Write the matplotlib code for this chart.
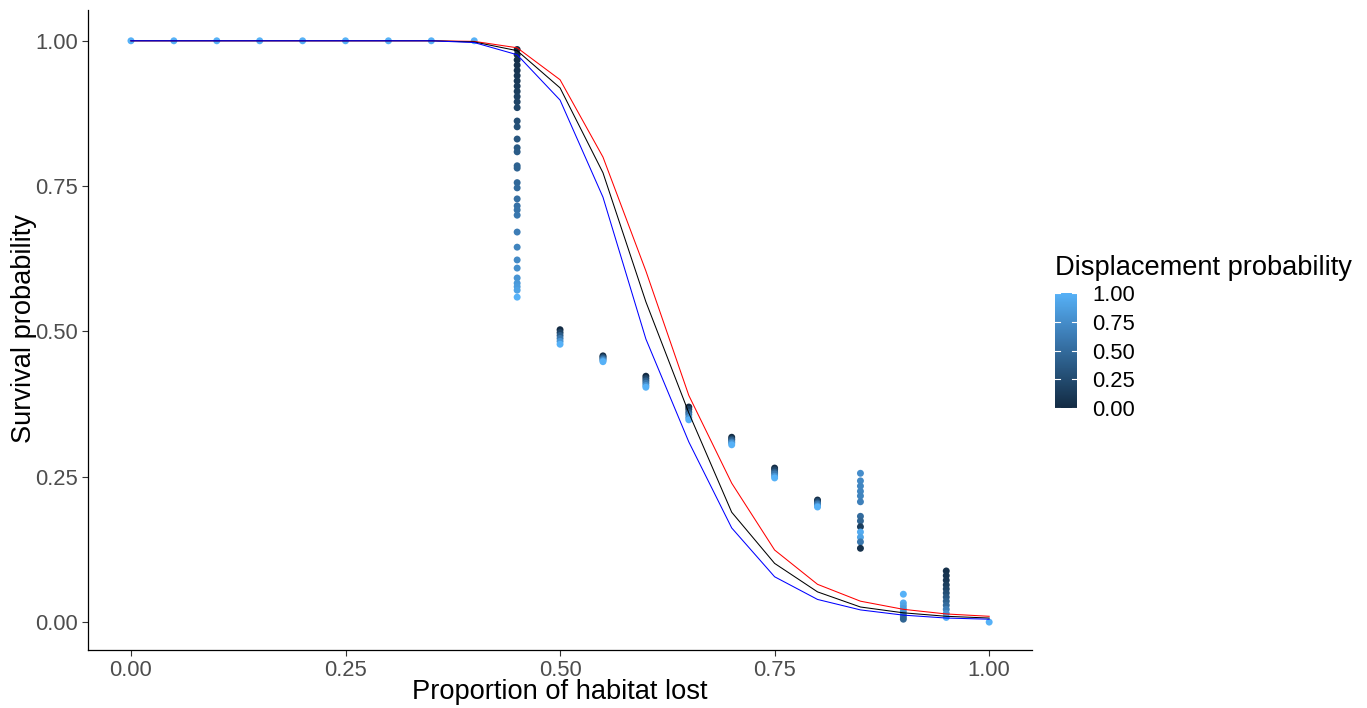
import matplotlib
matplotlib.use("Agg")
import matplotlib.pyplot as plt
from matplotlib.colors import LinearSegmentedColormap, Normalize
from matplotlib.cm import ScalarMappable
import numpy as np

plt.rcParams['font.family'] = ['Liberation Sans', 'DejaVu Sans']

# ---- Curves (habitat lost vs survival) ----
habitat_line = [0.00, 0.05, 0.10, 0.15, 0.20, 0.25, 0.30, 0.35, 0.40, 0.45, 0.50,
                0.55, 0.60, 0.65, 0.70, 0.75, 0.80, 0.85, 0.90, 0.95, 1.00]
red_line = [1.0, 1.0, 1.0, 1.0, 1.0, 1.0, 1.0, 1.0, 0.999, 0.988, 0.933,
            0.800, 0.604, 0.390, 0.239, 0.124, 0.065, 0.036, 0.022, 0.014, 0.010]
black_line = [1.0, 1.0, 1.0, 1.0, 1.0, 1.0, 1.0, 1.0, 0.998, 0.983, 0.919,
              0.773, 0.551, 0.360, 0.189, 0.101, 0.052, 0.026, 0.016, 0.010, 0.007]
blue_line = [1.0, 1.0, 1.0, 1.0, 1.0, 1.0, 1.0, 1.0, 0.997, 0.976, 0.898,
             0.731, 0.487, 0.310, 0.162, 0.078, 0.039, 0.021, 0.012, 0.007, 0.005]

# ---- Simulated points: survival and displacement probability per habitat level ----
surv_000_040 = [1.0] * 9
disp_000_040 = [1.0] * 9
habitat_000_040 = [0.00, 0.05, 0.10, 0.15, 0.20, 0.25, 0.30, 0.35, 0.40]

surv_045 = [0.985, 0.976, 0.967, 0.958, 0.949, 0.940, 0.931, 0.922, 0.913, 0.904, 0.895, 0.885,
            0.862, 0.852, 0.831, 0.816, 0.809, 0.785, 0.781, 0.756, 0.747, 0.728, 0.716, 0.709,
            0.700, 0.671, 0.645, 0.623, 0.609, 0.592, 0.583, 0.577, 0.571, 0.559]
disp_045 = [0.00, 0.02, 0.04, 0.06, 0.08, 0.10, 0.12, 0.14, 0.16, 0.18, 0.20, 0.22,
            0.28, 0.30, 0.34, 0.37, 0.39, 0.43, 0.44, 0.48, 0.50, 0.53, 0.55, 0.57,
            0.59, 0.64, 0.68, 0.73, 0.76, 0.80, 0.83, 0.86, 0.90, 1.00]

disp_mid = [0.0, 0.2, 0.4, 0.6, 0.8, 1.0]
surv_050 = [0.503, 0.498, 0.493, 0.488, 0.483, 0.478]
surv_055 = [0.458, 0.456, 0.454, 0.452, 0.450, 0.448]
surv_060 = [0.423, 0.419, 0.415, 0.411, 0.407, 0.404]
surv_065 = [0.370, 0.366, 0.361, 0.357, 0.352, 0.348]
surv_070 = [0.318, 0.315, 0.313, 0.310, 0.308, 0.305]
surv_075 = [0.265, 0.262, 0.258, 0.255, 0.251, 0.248]
surv_080 = [0.210, 0.208, 0.205, 0.203, 0.200, 0.198]

surv_085 = [0.256, 0.243, 0.234, 0.225, 0.217, 0.207, 0.182, 0.174, 0.164, 0.155, 0.146, 0.138, 0.127]
disp_085 = [0.75, 0.72, 0.70, 0.70, 0.68, 0.66, 0.50, 0.45, 0.15, 0.95, 0.90, 0.60, 0.05]

surv_090 = [0.048, 0.033, 0.028, 0.023, 0.018, 0.013, 0.009, 0.005]
disp_090 = [1.0, 0.95, 0.90, 0.85, 0.80, 0.70, 0.55, 0.45]

surv_095 = [0.088, 0.080, 0.072, 0.064, 0.057, 0.050, 0.043, 0.036, 0.029, 0.022, 0.015, 0.008]
disp_095 = [0.05, 0.08, 0.10, 0.15, 0.20, 0.28, 0.35, 0.42, 0.50, 0.65, 0.80, 1.00]

surv_100 = [0.0]
disp_100 = [1.0]

columns = [
    (habitat_000_040, surv_000_040, disp_000_040),
    ([0.45] * len(surv_045), surv_045, disp_045),
    ([0.50] * 6, surv_050, disp_mid),
    ([0.55] * 6, surv_055, disp_mid),
    ([0.60] * 6, surv_060, disp_mid),
    ([0.65] * 6, surv_065, disp_mid),
    ([0.70] * 6, surv_070, disp_mid),
    ([0.75] * 6, surv_075, disp_mid),
    ([0.80] * 6, surv_080, disp_mid),
    ([0.85] * len(surv_085), surv_085, disp_085),
    ([0.90] * len(surv_090), surv_090, disp_090),
    ([0.95] * len(surv_095), surv_095, disp_095),
    ([1.00], surv_100, disp_100),
]
hab_pts = np.concatenate([c[0] for c in columns])
surv_pts = np.concatenate([c[1] for c in columns])
disp_pts = np.concatenate([c[2] for c in columns])

x_ticks = [0.00, 0.25, 0.50, 0.75, 1.00]
y_ticks = [0.00, 0.25, 0.50, 0.75, 1.00]
tick_labels = ["0.00", "0.25", "0.50", "0.75", "1.00"]

cmap = LinearSegmentedColormap.from_list(
    "gg", ["#132B43", "#1F4466", "#2C5E8A", "#3A78AF", "#4894D3", "#56B1F7"])
norm = Normalize(0, 1)

fig = plt.figure(figsize=(13.67, 7.08), dpi=100)
ax = fig.add_axes([0.0644, 0.0819, 0.6906, 0.904])

ax.scatter(hab_pts, surv_pts, c=disp_pts, cmap=cmap, norm=norm, s=25,
           linewidths=0, zorder=2)
ax.plot(habitat_line, red_line, color="red", lw=0.75, zorder=3)
ax.plot(habitat_line, black_line, color="black", lw=0.75, zorder=3)
ax.plot(habitat_line, blue_line, color="blue", lw=0.75, zorder=3)

ax.set_xlim(-0.05, 1.05)
ax.set_ylim(-0.048, 1.053)
ax.set_xticks(x_ticks)
ax.set_xticklabels(tick_labels)
ax.set_yticks(y_ticks)
ax.set_yticklabels(tick_labels)
ax.tick_params(axis='both', labelsize=15.8, colors="#333333", labelcolor="#4D4D4D",
               length=4, width=0.8, pad=3)
for s in ["top", "right"]:
    ax.spines[s].set_visible(False)
for s in ["left", "bottom"]:
    ax.spines[s].set_linewidth(0.9)
    ax.spines[s].set_color("black")

fig.text(560 / 1367, 1 - 692 / 708, "Proportion of habitat lost", fontsize=19.6,
         ha="center", va="center")
fig.text(24 / 1367, 1 - 329 / 708, "Survival probability", fontsize=19.6,
         ha="center", va="center", rotation=90)

# colorbar legend
cax = fig.add_axes([0.7718, 0.4237, 0.0161, 0.1624])
cb = fig.colorbar(ScalarMappable(norm=norm, cmap=cmap), cax=cax)
cb.outline.set_visible(False)
cb.set_ticks(y_ticks)
cb.set_ticklabels(tick_labels)
cax.tick_params(labelsize=15.8, length=0, pad=11, labelcolor="black")
for t in y_ticks:
    cax.plot([0, 0.22], [t, t], color="white", lw=0.8, transform=cax.get_yaxis_transform())
    cax.plot([0.78, 1.0], [t, t], color="white", lw=0.8, transform=cax.get_yaxis_transform())
fig.text(1055 / 1367, 1 - 268 / 708, "Displacement probability", fontsize=19.6,
         ha="left", va="center")

fig.savefig("out.png", dpi=100)
